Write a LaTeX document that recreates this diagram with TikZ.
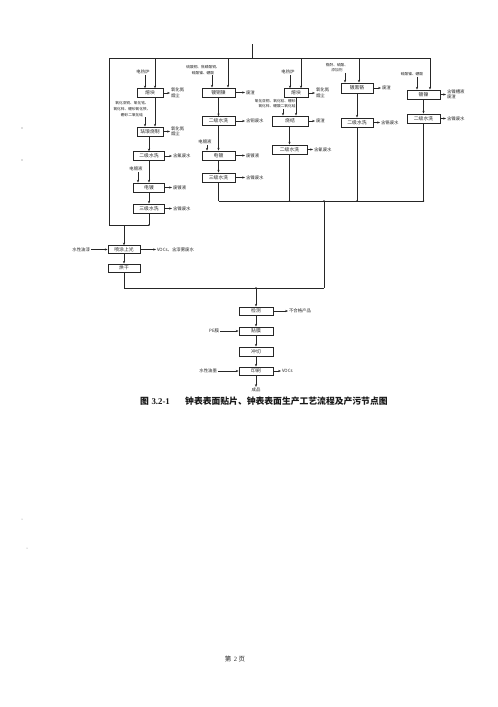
\documentclass[tikz,border=0pt]{standalone}
\usepackage{fontspec}
\setmainfont{Liberation Serif}
\newfontfamily\cjk{Noto Sans CJK SC}
\usetikzlibrary{arrows.meta}
\begin{document}
\begin{tikzpicture}[x=1pt,y=-1pt,
  line/.style={draw=black!85,line width=0.8pt},
  arr/.style={line,-{Stealth[length=2.8pt,width=2.2pt]}},
  box/.style={draw=black!85,line width=0.8pt,minimum height=8.5pt,inner sep=0pt,font=\cjk\fontsize{4.8}{5.5}\selectfont,text=black!85},
  lab/.style={font=\cjk\fontsize{4.4}{5.4}\selectfont,inner sep=0.8pt,align=left,text=black!85},
  chem/.style={font=\cjk\fontsize{3.7}{5.8}\selectfont,inner sep=0.6pt,align=center,text=black!85},
  dot/.style={circle,fill=black!85,inner sep=0pt,minimum size=1.6pt}]
\fill[white] (0,0) rectangle (498,707);
\useasboundingbox (0,0) rectangle (498,707);

% ---------- top bus ----------
\coordinate (tin) at (252,44);
\coordinate (tl) at (109,58);
\coordinate (tr) at (430,58);
\draw[line] (tin) -- (tin |- tl);
\draw[line] (tl) -- (tr);

% ---------- column 1 ----------
\node[box,minimum width=26pt] (c1a) at (150,93) {熔块};
\node[box,minimum width=26pt,minimum height=9pt] (c1b) at (150,131.5) {珐琅烧制};
\node[box,minimum width=31pt] (c1c) at (149,156) {二级水洗};
\node[box,minimum width=31pt,minimum height=9pt] (c1d) at (149,187.5) {电镀};
\node[box,minimum width=31pt,minimum height=9pt] (c1e) at (149,208.5) {三级水洗};
\node[lab] (i1a) at (143,72) {电热炉};
\node[chem] (i1b) at (132,109) {氧化亚铜、氧化钴、\\氧化锌、硼砂氧化铁、\\硼砂二氧化硅};
\node[lab] (i1d) at (136,169) {电镀液};
\node[lab,anchor=west] (o1a) at (170,93) {氧化氮\\烟尘};
\node[lab,anchor=west] (o1b) at (170,131.5) {氧化氮\\烟尘};
\node[lab,anchor=west] (o1c) at (172,156) {含氟废水};
\node[lab,anchor=west] (o1d) at (172,187.5) {废镀液};
\node[lab,anchor=west] (o1e) at (172,208.5) {含镍废水};
\draw[arr] ([xshift=5pt]c1a.north |- tl) -- ([xshift=5pt]c1a.north);
\draw[arr] ([xshift=2pt]i1a.south) -- ([xshift=2pt]i1a.south |- c1a.north);
\draw[arr] ([xshift=13pt]i1b.south) -- ([xshift=13pt]i1b.south |- c1b.north);
\draw[arr] ([xshift=5pt]c1a.south) -- ([xshift=5pt]c1a.south |- c1b.north);
\draw[arr] (c1c.north |- c1b.south) -- (c1c.north);
\draw[arr] (c1c.south) -- (c1d.north);
\draw[arr] ([xshift=2pt]i1d.south) -- ([xshift=2pt]i1d.south |- c1d.north);
\draw[arr] (c1d.south) -- (c1e.north);
\foreach \b/\o in {c1a/o1a,c1b/o1b,c1c/o1c,c1d/o1d,c1e/o1e}
  \draw[arr] (\b.east) -- (\o.west |- \b.east);

% ---------- column 2 ----------
\node[box,minimum width=33pt,minimum height=9pt] (c2a) at (218.5,92.5) {镀铜镍};
\node[box,minimum width=33pt] (c2b) at (218.5,121) {二级水洗};
\node[box,minimum width=33pt,minimum height=9pt] (c2c) at (218.5,155.5) {电镀};
\node[box,minimum width=33pt,minimum height=9pt] (c2d) at (218.5,177.5) {三级水洗};
\node[chem] (i2a) at (203,70) {硫酸铜、焦磷酸铜、\\硫酸镍、硼酸};
\node[lab] (i2c) at (205,142) {电镀液};
\node[lab,anchor=west] (o2a) at (245,92.5) {废渣};
\node[lab,anchor=west] (o2b) at (245,121) {含铜废水};
\node[lab,anchor=west] (o2c) at (245,155.5) {废镀液};
\node[lab,anchor=west] (o2d) at (245,177.5) {含镍废水};
\draw[arr] ([xshift=9.5pt]c2a.north |- tl) -- ([xshift=9.5pt]c2a.north);
\draw[arr] ([xshift=9pt]i2a.south) -- ([xshift=9pt]i2a.south |- c2a.north);
\draw[arr] (c2a.south) -- (c2b.north);
\draw[arr] (c2b.south) -- (c2c.north);
\draw[arr] ([xshift=2pt]i2c.south) -- ([xshift=2pt]i2c.south |- c2c.north);
\draw[arr] (c2c.south) -- (c2d.north);
\foreach \b/\o in {c2a/o2a,c2b/o2b,c2c/o2c,c2d/o2d}
  \draw[arr] (\b.east) -- (\o.west |- \b.east);

% ---------- column 3 ----------
\node[box,minimum width=24pt] (c3a) at (296,93) {熔块};
\node[box,minimum width=36pt,minimum height=10pt] (c3b) at (290,121) {烧结};
\node[box,minimum width=35pt,minimum height=9pt] (c3c) at (289.5,149.5) {二级水洗};
\node[lab] (i3a) at (288,72) {电热炉};
\node[chem] (i3b) at (277,103.5) {氧化亚铜、氧化钴、硼砂、\\氧化锌、硼酸二氧化硅};
\node[lab,anchor=west] (o3a) at (315,93) {氧化氮\\烟尘};
\node[lab,anchor=west] (o3b) at (315,121) {废渣};
\node[lab,anchor=west] (o3c) at (313,149.5) {含氰废水};
\draw[arr] ([xshift=5pt]c3a.north |- tl) -- ([xshift=5pt]c3a.north);
\draw[arr] ([xshift=2pt]i3a.south) -- ([xshift=2pt]i3a.south |- c3a.north);
\draw[arr] ([xshift=6pt]i3b.south) -- ([xshift=6pt]i3b.south |- c3b.north);
\draw[arr] (c3a.south) -- (c3a.south |- c3b.north);
\draw[arr] (c3c.north |- c3b.south) -- (c3c.north);
\foreach \b/\o in {c3a/o3a,c3b/o3b,c3c/o3c}
  \draw[arr] (\b.east) -- (\o.west |- \b.east);

% ---------- column 4 ----------
\node[box,minimum width=32pt,minimum height=10pt] (c4a) at (357,88) {镀黑铬};
\node[box,minimum width=32pt,minimum height=9pt] (c4b) at (357,122.5) {二级水洗};
\node[chem] (i4a) at (337,67.5) {铬酐、硫酸、\\添加剂};
\node[lab,anchor=west] (o4a) at (381,88) {废渣};
\node[lab,anchor=west] (o4b) at (380,122.5) {含铬废水};
\draw[arr] ([xshift=2pt]c4a.north |- tl) -- ([xshift=2pt]c4a.north);
\draw[arr] ([xshift=8pt]i4a.south) -- ([xshift=8pt]i4a.south |- c4a.north);
\draw[arr] (c4a.south) -- (c4b.north);
\foreach \b/\o in {c4a/o4a,c4b/o4b}
  \draw[arr] (\b.east) -- (\o.west |- \b.east);

% ---------- column 5 ----------
\node[box,minimum width=33pt,minimum height=9pt] (c5a) at (423.5,94.5) {镀镍};
\node[box,minimum width=33pt,minimum height=9pt] (c5b) at (423.5,118.5) {二级水洗};
\node[chem] (i5a) at (412,74) {硫酸镍、硼酸};
\node[lab,anchor=west] (o5a) at (446,94.5) {含镍槽液\\废渣};
\node[lab,anchor=west] (o5b) at (446,118.5) {含镍废水};
\draw[arr] ([xshift=6.5pt]c5a.north |- tl) -- ([xshift=6.5pt]c5a.north);
\draw[arr] ([xshift=5pt]i5a.south) -- ([xshift=5pt]i5a.south |- c5a.north);
\draw[arr] (c5a.south) -- (c5b.north);
\foreach \b/\o in {c5a/o5a,c5b/o5b}
  \draw[arr] (\b.east) -- (\o.west |- \b.east);

% ---------- collecting bus ----------
\coordinate (bmA) at (218.5,201);
\coordinate (bmB) at (423.5,201);
\coordinate (bmC) at (324,201);
\coordinate (jnC) at (324,288);
\coordinate (jnA) at (124,288);
\coordinate (jnB) at (256,288);
\draw[line] (c2d.south) -- (bmA);
\draw[line] (c3c.south) -- (c3c.south |- bmA);
\draw[line] (c4b.south) -- (c4b.south |- bmA);
\draw[line] (c5b.south) -- (bmB);
\draw[line] (bmA) -- (bmB);
\draw[line] (bmC) -- (jnC);
\node[dot] (d3) at (c3c.south |- bmA) {};
\node[dot] (d4) at (c4b.south |- bmA) {};
\node[dot] (d5) at (bmB) {};
\node[dot] (dC) at (bmC) {};

% ---------- left loop & spraying ----------
\coordinate (lpA) at (109,225);
\coordinate (lpB) at (149,225);
\draw[line] (tl) -- (lpA) -- (lpB);
\draw[line] (c1e.south) -- (lpB);
\node[dot] (dB) at (lpB) {};
\node[box,minimum width=32pt,minimum height=7.5pt] (p1) at (124,249.5) {喷涂上光};
\node[box,minimum width=32pt,minimum height=8pt] (p2) at (124,268) {烘干};
\node[lab,anchor=east] (ip1) at (91,249.5) {水性油漆};
\node[lab,anchor=west] (op1) at (156,249.5) {VOCs、含漆雾废水};
\draw[arr] (p1.north |- lpB) -- (p1.north);
\draw[arr] (ip1.east) -- (p1.west);
\draw[arr] (p1.east) -- (op1.west);
\draw[arr] (p1.south) -- (p2.north);
\draw[line] (p2.south) -- (jnA) -- (jnC);

% ---------- final chain ----------
\node[box,minimum width=34pt,minimum height=8pt] (q1) at (256,311) {检测};
\node[box,minimum width=34pt,minimum height=8pt] (q2) at (256,331) {贴膜};
\node[box,minimum width=34pt,minimum height=9pt] (q3) at (256,351.5) {冲切};
\node[box,minimum width=34pt,minimum height=8pt] (q4) at (256,371) {印刷};
\node[lab] (fin) at (256,390) {成品};
\node[lab,anchor=west] (oq1) at (288,311) {不合格产品};
\node[lab,anchor=east] (iq2) at (220,331) {PE膜};
\node[lab,anchor=east] (iq4) at (218,371) {水性油墨};
\node[lab,anchor=west] (oq4) at (281,371) {VOCs};
\node[dot] (dq) at (jnB) {};
\draw[arr] (jnB) -- (q1.north);
\draw[arr] (q1.east) -- (oq1.west);
\draw[arr] (q1.south) -- (q2.north);
\draw[arr] (iq2.east) -- (q2.west);
\draw[arr] (q2.south) -- (q3.north);
\draw[arr] (q3.south) -- (q4.north);
\draw[arr] (iq4.east) -- (q4.west);
\draw[arr] (q4.east) -- (oq4.west);
\draw[arr] (q4.south) -- (fin.north);

% ---------- caption & footer ----------
\node[anchor=west,inner sep=0pt,text=black!90] (cap1) at (140,401.5) {{\cjk\bfseries\fontsize{8.8}{10}\selectfont 图} \bfseries\fontsize{8.8}{10}\selectfont 3.2-1};
\node[anchor=west,inner sep=0pt,text=black!90] (cap2) at (185,401.5) {\cjk\bfseries\fontsize{8.8}{10}\selectfont 钟表表面贴片、钟表表面生产工艺流程及产污节点图};
\node[inner sep=0pt,text=black!85] (foot) at (235,659) {{\cjk\fontsize{6.5}{8}\selectfont 第} \fontsize{6.5}{8}\selectfont 2 {\cjk\fontsize{6.5}{8}\selectfont 页}};

% scan marks
\fill[black!55] (22,128) circle (0.6);
\fill[black!55] (22,160) circle (0.6);
\fill[black!45] (22,519) circle (0.5);
\fill[black!45] (27,548) circle (0.5);
\end{tikzpicture}
\end{document}
